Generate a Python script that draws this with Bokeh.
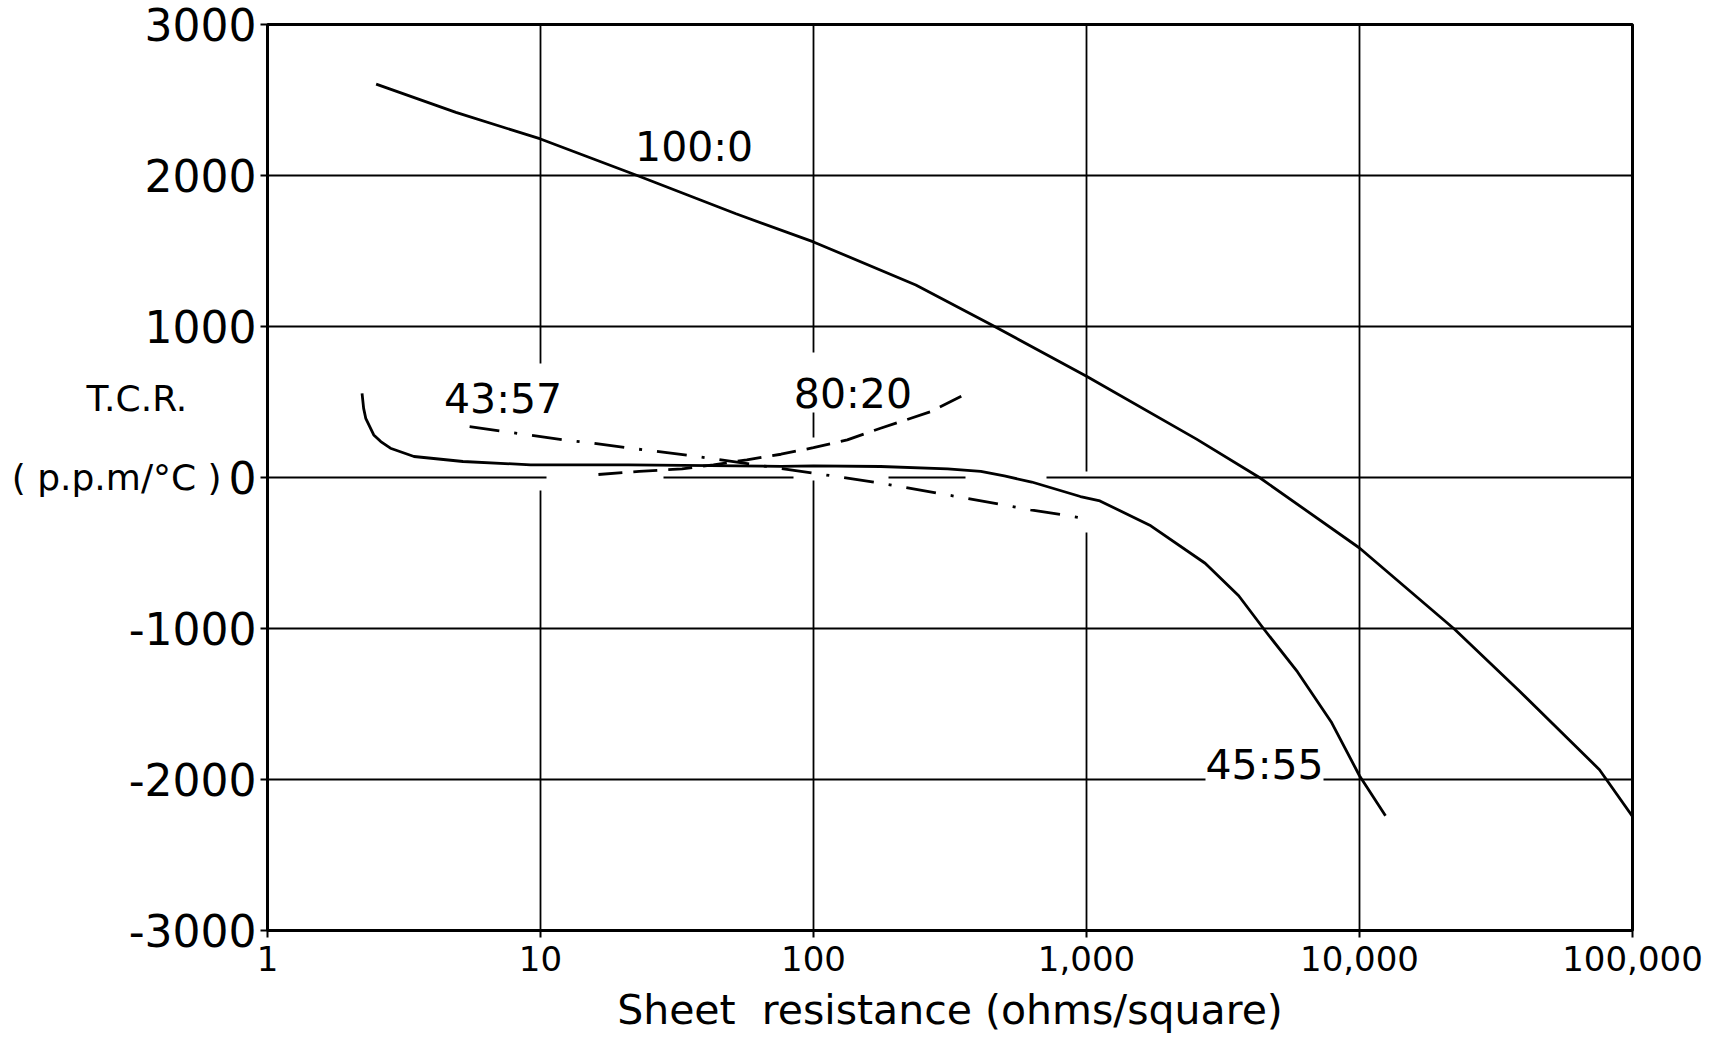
from bokeh.plotting import figure
from bokeh.models import Range1d, FixedTicker, Span, Label
from bokeh.embed import file_html
from bokeh.resources import INLINE

# ---------------- data ----------------
x_ticks = [1, 10, 100, 1000, 10000, 100000]
x_tick_labels = ["1", "10", "100", "1,000", "10,000", "100,000"]
y_ticks = [-3000, -2000, -1000, 0, 1000, 2000, 3000]
y_tick_labels = ["-3000", "-2000", "-1000", "0", "1000", "2000", "3000"]

# 100:0 (solid)
r_100_0 = [2.5, 4.9, 10, 22.6, 52, 100, 237, 450, 1000, 2530, 4300, 10000, 22300, 38600, 75700, 100000]
tcr_100_0 = [2605, 2418, 2242, 2000, 1747, 1560, 1275, 1010, 671, 254, 0, -467, -1005, -1415, -1935, -2245]

# 45:55 (solid)
r_45_55 = [2.22, 2.25, 2.29, 2.45, 2.6, 2.82, 3.44, 5.2, 9.2, 21, 76, 100, 176, 310, 410, 500, 630,
           950, 1120, 1720, 2720, 3610, 4470, 5930, 7870, 10000, 12450]
tcr_45_55 = [557, 458, 392, 282, 238, 194, 139, 106, 84, 84, 74, 77, 73, 57, 40, 10, -30,
             -126, -155, -320, -568, -783, -1005, -1288, -1617, -1975, -2240]

# 43:57 (dash-dot)
r_43_57 = [5.5, 12.2, 15.7, 21.4, 37.5, 100, 176, 309, 624, 1020]
tcr_43_57 = [337, 249, 227, 194, 139, 29, -37, -115, -214, -275]

# 80:20 (dashed)
r_80_20 = [16.3, 23, 33, 43, 57, 76, 100, 133, 176, 269, 361]
tcr_80_20 = [20, 40, 57, 84, 117, 154, 198, 249, 326, 436, 553]

grid_x = [10, 100, 1000, 10000]
grid_y = [2000, 1000, 0, -1000, -2000]

# ---------------- figure ----------------
FONT = "DejaVu Sans"
INK = "#000000"

p = figure(
    x_axis_type="log",
    x_range=Range1d(1, 100000),
    y_range=Range1d(-3000, 3000),
    frame_width=1365, frame_height=906,
    min_border_left=267, min_border_right=77,
    min_border_top=24, min_border_bottom=108,
    output_backend="svg", toolbar_location=None,
    background_fill_color="white", border_fill_color="white",
)
p.xgrid.grid_line_color = None
p.ygrid.grid_line_color = None
p.outline_line_color = INK
p.outline_line_width = 3
p.outline_line_alpha = 1

p.xaxis.ticker = FixedTicker(ticks=x_ticks)
p.xaxis.major_label_overrides = {t: s for t, s in zip(x_ticks, x_tick_labels)}
p.yaxis.ticker = FixedTicker(ticks=y_ticks)
p.yaxis.major_label_overrides = {t: s for t, s in zip(y_ticks, y_tick_labels)}

for ax in (p.xaxis[0], p.yaxis[0]):
    ax.axis_line_width = 3
    ax.axis_line_color = INK
    ax.major_tick_line_color = INK
    ax.major_tick_line_width = 2
    ax.major_tick_out = 7
    ax.major_tick_in = 0
    ax.minor_tick_line_color = None
    ax.major_label_text_font = FONT
    ax.major_label_text_color = INK
    ax.axis_label_text_font = FONT
    ax.axis_label_text_font_style = "normal"
    ax.axis_label_text_color = INK

p.xaxis.major_label_text_font_size = "34px"
p.yaxis.major_label_text_font_size = "44px"
p.xaxis.major_label_standoff = 8
p.yaxis.major_label_standoff = 4

p.xaxis.axis_label = "Sheet\u00a0 resistance (ohms/square)"
p.xaxis.axis_label_text_font_size = "41px"
p.xaxis.axis_label_standoff = 12

p.yaxis.axis_label = "T.C.R.\u00a0\u00a0\u00a0\n( p.p.m/°C )\n"
p.yaxis.axis_label_orientation = "horizontal"
p.yaxis.axis_label_text_font_size = "36px"
p.yaxis.axis_label_text_line_height = 1.93
p.yaxis.axis_label_standoff = -96

# grid lines (with the hand-drawn interruptions)
h_dash = {0: "279 117 130 95 77 81 600", -2000: "938 118 400"}
v_dash = {10: "339 127 500", 100: "328 60 25 43 500", 1000: "447 61 450"}
for gy in grid_y:
    p.add_layout(Span(location=gy, dimension="width", line_color=INK, line_width=1.8,
                      line_dash=h_dash.get(gy, "solid"), level="underlay"))
for gx in grid_x:
    p.add_layout(Span(location=gx, dimension="height", line_color=INK, line_width=1.8,
                      line_dash=v_dash.get(gx, "solid"), level="underlay"))

# curves
p.line(r_100_0, tcr_100_0, line_color=INK, line_width=2.8)
p.line(r_45_55, tcr_45_55, line_color=INK, line_width=2.8)
p.line(r_43_57, tcr_43_57, line_color=INK, line_width=2.8, line_dash="30 15 3 15")
p.line(r_80_20, tcr_80_20, line_color=INK, line_width=2.8, line_dash="24 11")

# curve labels
def lab(x, y, text):
    p.add_layout(Label(x=x, y=y, text=text, text_font=FONT, text_font_size="41px",
                       text_color=INK, text_align="left", text_baseline="alphabetic"))

lab(22.2, 2188, "100:0")
lab(4.43, 522, "43:57")
lab(84.7, 553, "80:20")
lab(2729, -1902, "45:55")

open("out.html", "w").write(file_html(p, INLINE))
